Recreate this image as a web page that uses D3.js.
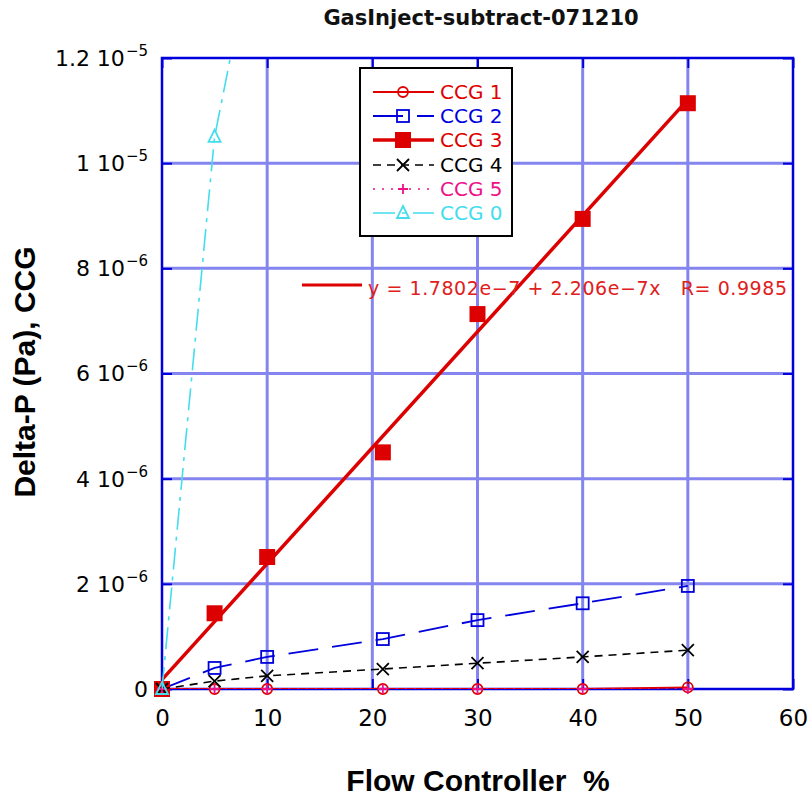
<!DOCTYPE html>
<html>
<head>
<meta charset="utf-8">
<script src="https://cdn.jsdelivr.net/npm/d3@7"></script>
<style>
  body { margin: 0; background: #fff; }
  text { white-space: pre; }
</style>
</head>
<body>
<svg id="chart" width="810" height="797"></svg>
<script>
// ---- data ----
const flow = [0, 5, 10, 21, 30, 40, 50];
const ccg1 = [0, 0, 0, 0, 0, 0, 0.03e-6];
const ccg2 = [0, 0.40e-6, 0.61e-6, 0.95e-6, 1.31e-6, 1.63e-6, 1.96e-6];
const ccg3 = [0, 1.44e-6, 2.51e-6, 4.50e-6, 7.13e-6, 8.94e-6, 1.114e-5];
const ccg4 = [0, 0.15e-6, 0.25e-6, 0.38e-6, 0.49e-6, 0.61e-6, 0.74e-6];
const ccg5 = [0, 0, 0, 0, 0, 0, 0];
const ccg0 = [0, 1.05e-5, 1.55e-5, null, null, null, null];
const seriesNames = ["CCG 1", "CCG 2", "CCG 3", "CCG 4", "CCG 5", "CCG 0"];

const fitIntercept = 1.7802e-7;
const fitSlope = 2.206e-7;
const fitRange = [0, 50];
const fitLabel = "y = 1.7802e\u22127 + 2.206e\u22127x   R= 0.9985";

const xTicks = [0, 10, 20, 30, 40, 50, 60];
const xTickLabels = ["0", "10", "20", "30", "40", "50", "60"];
const yTicks = [0, 2e-6, 4e-6, 6e-6, 8e-6, 1e-5, 1.2e-5];
const yTickMantissa = ["0", "2 10", "4 10", "6 10", "8 10", "1 10", "1.2 10"];
const yTickExponent = ["", "\u22126", "\u22126", "\u22126", "\u22126", "\u22125", "\u22125"];
const xGrid = [10, 20, 30, 40, 50];
const yGrid = [2e-6, 4e-6, 6e-6, 8e-6, 1e-5];

const title = "GasInject-subtract-071210";
const xTitle = "Flow Controller  %";
const yTitle = "Delta-P (Pa), CCG";

// ---- layout ----
const svg = d3.select("#chart");
const plot = { left: 162, right: 793, top: 58, bottom: 689 };
const x = d3.scaleLinear().domain([0, 60]).range([plot.left, plot.right]);
const y = d3.scaleLinear().domain([0, 1.2e-5]).range([plot.bottom, plot.top]);

const FONT = "'DejaVu Sans', Verdana, sans-serif";
const BOLD = "'Liberation Sans', Arial, sans-serif";
const FRAME = "#0000dd";
const GRID = "#8585ef";

const styles = {
  "CCG 1": { values: ccg1, color: "#e00000", width: 1.8, dash: null, marker: "circle", line: true },
  "CCG 2": { values: ccg2, color: "#0000dd", width: 1.8, dash: "30,14", marker: "square", line: true },
  "CCG 3": { values: ccg3, color: "#dd0000", width: 3.5, dash: null, marker: "filled", line: false },
  "CCG 4": { values: ccg4, color: "#000000", width: 1.6, dash: "8,6", marker: "cross", line: true },
  "CCG 5": { values: ccg5, color: "#ee1188", width: 1.5, dash: "2,7", marker: "plus", line: true },
  "CCG 0": { values: ccg0, color: "#44ddee", width: 1.6, dash: "22,7,4,7", marker: "triangle", line: true }
};

svg.append("defs").append("clipPath").attr("id", "plotClip")
  .append("rect")
  .attr("x", plot.left).attr("y", plot.top)
  .attr("width", plot.right - plot.left).attr("height", plot.bottom - plot.top);

// ---- grid ----
const grid = svg.append("g");
grid.selectAll("line.gx").data(xGrid).join("line")
  .attr("x1", d => x(d)).attr("x2", d => x(d))
  .attr("y1", plot.top).attr("y2", plot.bottom)
  .attr("stroke", GRID).attr("stroke-width", 3);
grid.selectAll("line.gy").data(yGrid).join("line")
  .attr("y1", d => y(d)).attr("y2", d => y(d))
  .attr("x1", plot.left).attr("x2", plot.right)
  .attr("stroke", GRID).attr("stroke-width", 3);

// ---- frame ----
svg.append("rect")
  .attr("x", plot.left).attr("y", plot.top)
  .attr("width", plot.right - plot.left).attr("height", plot.bottom - plot.top)
  .attr("fill", "none").attr("stroke", FRAME).attr("stroke-width", 2.5);

// ---- axes (inward ticks on all four sides) ----
function styleAxis(g) {
  g.select(".domain").remove();
  g.selectAll(".tick line").attr("stroke", FRAME).attr("stroke-width", 2);
  g.selectAll("text").attr("fill", "#000").attr("font-family", FONT).attr("font-size", 23);
}

svg.append("g").attr("transform", `translate(0,${plot.bottom})`)
  .call(d3.axisBottom(x).tickValues(xTicks).tickSizeInner(-10).tickSizeOuter(0)
    .tickPadding(21).tickFormat((d, i) => xTickLabels[i]))
  .call(styleAxis);

svg.append("g").attr("transform", `translate(0,${plot.top})`)
  .call(d3.axisTop(x).tickValues(xTicks).tickSizeInner(-10).tickSizeOuter(0).tickFormat(""))
  .call(styleAxis);

const yAxisG = svg.append("g").attr("transform", `translate(${plot.left},0)`)
  .call(d3.axisLeft(y).tickValues(yTicks).tickSizeInner(-10).tickSizeOuter(0)
    .tickPadding(14).tickFormat(""))
  .call(styleAxis);

// y tick labels in "m 10^e" form
yAxisG.selectAll(".tick text").each(function (d) {
  const i = yTicks.indexOf(d);
  const t = d3.select(this);
  t.text(null);
  t.append("tspan").attr("font-size", 22).text(yTickMantissa[i]);
  if (yTickExponent[i]) {
    t.append("tspan").attr("dy", -10).attr("dx", 1).attr("font-size", 15).text(yTickExponent[i]);
  }
});

svg.append("g").attr("transform", `translate(${plot.right},0)`)
  .call(d3.axisRight(y).tickValues(yTicks).tickSizeInner(-10).tickSizeOuter(0).tickFormat(""))
  .call(styleAxis);

// ---- markers ----
function drawMarker(g, type, cx, cy, color, s = 1) {
  switch (type) {
    case "circle":
      g.append("circle").attr("cx", cx).attr("cy", cy).attr("r", 5 * s)
        .attr("fill", "none").attr("stroke", color).attr("stroke-width", 1.8);
      break;
    case "square":
      g.append("rect").attr("x", cx - 6 * s).attr("y", cy - 6 * s)
        .attr("width", 12 * s).attr("height", 12 * s)
        .attr("fill", "none").attr("stroke", color).attr("stroke-width", 1.8);
      break;
    case "filled":
      g.append("rect").attr("x", cx - 8 * s).attr("y", cy - 8 * s)
        .attr("width", 16 * s).attr("height", 16 * s).attr("fill", color);
      break;
    case "cross":
      g.append("path")
        .attr("d", `M${cx - 6 * s},${cy - 6 * s}L${cx + 6 * s},${cy + 6 * s}M${cx - 6 * s},${cy + 6 * s}L${cx + 6 * s},${cy - 6 * s}`)
        .attr("stroke", color).attr("stroke-width", 1.8).attr("fill", "none");
      break;
    case "plus":
      g.append("path")
        .attr("d", `M${cx - 5 * s},${cy}L${cx + 5 * s},${cy}M${cx},${cy - 5 * s}L${cx},${cy + 5 * s}`)
        .attr("stroke", color).attr("stroke-width", 1.8).attr("fill", "none");
      break;
    case "triangle":
      g.append("path")
        .attr("d", `M${cx},${cy - 7 * s}L${cx + 6 * s},${cy + 5 * s}L${cx - 6 * s},${cy + 5 * s}Z`)
        .attr("stroke", color).attr("stroke-width", 1.8).attr("fill", "none");
      break;
  }
}

// ---- fit line for CCG 3 ----
const fitFn = v => fitIntercept + fitSlope * v;
svg.append("line")
  .attr("x1", x(fitRange[0])).attr("y1", y(fitFn(fitRange[0])))
  .attr("x2", x(fitRange[1])).attr("y2", y(fitFn(fitRange[1])))
  .attr("stroke", "#dd0000").attr("stroke-width", 3.5);

// ---- series ----
const lineGen = d3.line()
  .defined(d => d[1] !== null)
  .x(d => x(d[0])).y(d => y(d[1]));

seriesNames.forEach(name => {
  const st = styles[name];
  const pts = flow.map((f, i) => [f, st.values[i]]);
  const g = svg.append("g");
  if (st.line) {
    g.append("path").datum(pts)
      .attr("d", lineGen)
      .attr("clip-path", "url(#plotClip)")
      .attr("fill", "none").attr("stroke", st.color)
      .attr("stroke-width", st.width)
      .attr("stroke-dasharray", st.dash);
  }
  pts.filter(p => p[1] !== null && y(p[1]) >= plot.top - 1)
    .forEach(p => drawMarker(g, st.marker, x(p[0]), y(p[1]), st.color));
});

// ---- legend ----
const legend = svg.append("g");
legend.append("rect")
  .attr("x", 360).attr("y", 68).attr("width", 152).attr("height", 168)
  .attr("fill", "#fff").attr("stroke", "#000").attr("stroke-width", 2);
const rowY = [92, 116, 140, 165, 189, 213];
seriesNames.forEach((name, i) => {
  const st = styles[name];
  const yy = rowY[i];
  legend.append("line")
    .attr("x1", 373).attr("x2", 434).attr("y1", yy).attr("y2", yy)
    .attr("stroke", st.color).attr("stroke-width", st.width)
    .attr("stroke-dasharray", st.dash);
  drawMarker(legend, st.marker, 403, yy, st.color);
  legend.append("text")
    .attr("x", 440).attr("y", yy + 7)
    .attr("font-family", FONT).attr("font-size", 20)
    .attr("fill", st.color).text(name);
});

// ---- fit annotation ----
svg.append("line")
  .attr("x1", 302).attr("x2", 362).attr("y1", 285).attr("y2", 285)
  .attr("stroke", "#dd0000").attr("stroke-width", 3);
svg.append("text")
  .attr("x", 368).attr("y", 295)
  .attr("font-family", FONT).attr("font-size", 19)
  .attr("fill", "#e02020")
  .attr("textLength", 419).attr("lengthAdjust", "spacing")
  .text(fitLabel);

// ---- titles ----
svg.append("text")
  .attr("x", 481).attr("y", 25).attr("text-anchor", "middle")
  .attr("font-family", FONT).attr("font-weight", "bold").attr("font-size", 21)
  .attr("fill", "#111").text(title);

svg.append("text")
  .attr("x", 478).attr("y", 791).attr("text-anchor", "middle")
  .attr("font-family", BOLD).attr("font-weight", "bold").attr("font-size", 30)
  .attr("fill", "#000").text(xTitle);

svg.append("text")
  .attr("transform", "translate(35,372) rotate(-90)")
  .attr("text-anchor", "middle")
  .attr("font-family", BOLD).attr("font-weight", "bold").attr("font-size", 30)
  .attr("fill", "#000").text(yTitle);
</script>
</body>
</html>
